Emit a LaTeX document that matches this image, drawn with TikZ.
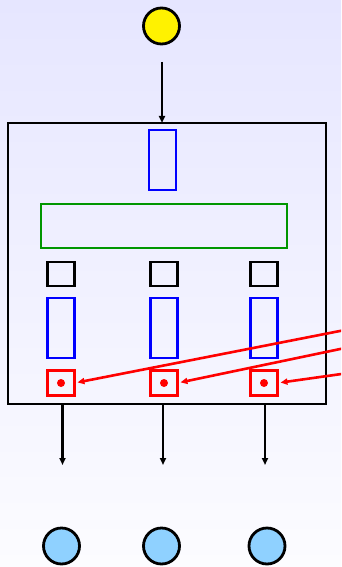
\documentclass[tikz,border=0pt]{standalone}
\usetikzlibrary{arrows.meta}
\definecolor{bgtop}{RGB}{230,230,255}
\definecolor{bgbot}{RGB}{252,252,255}
\definecolor{leaf}{RGB}{143,209,255}
\definecolor{gbar}{RGB}{0,150,0}
\begin{document}
\begin{tikzpicture}[x=1pt,y=-1pt,
  box/.style={draw, line width=2.8pt, inner sep=0pt, outer sep=0pt, rectangle},
  blk/.style={box, black, minimum width=27pt, minimum height=24pt},
  bluebox/.style={box, blue, minimum width=27pt, minimum height=60pt},
  slot/.style={box, red, minimum width=27pt, minimum height=25pt},
  dotm/.style={circle, fill=red, inner sep=0pt, minimum size=8pt},
  ball/.style={circle, draw=black, line width=2.8pt, inner sep=0pt, minimum size=36pt},
  flow/.style={-{Triangle[length=7pt,width=6pt]}, line width=2.6pt, black},
  hint/.style={-{Triangle[length=7pt,width=6pt]}, line width=2.6pt, red, shorten >=3pt}]
  % background
  \shade[top color=bgtop, bottom color=bgbot] (0,0) rectangle (341,567);
  \useasboundingbox (0,0) rectangle (341,567);
  \clip (0,0) rectangle (341,567);

  % root
  \node[ball, fill=yellow] (root) at (161.5,26) {};
  \coordinate (rootout) at (162,62);

  % container
  \node[box, minimum width=318pt, minimum height=281pt] (frame) at (167,263.5) {};
  \node[bluebox] (top) at (162.5,160) {};
  \node[box, draw=gbar, minimum width=246pt, minimum height=44pt] (bar) at (164,226) {};

  \foreach \i/\x in {1/61,2/164,3/264}{
    \node[blk] (k\i) at (\x,274) {};
    \node[bluebox] (b\i) at (\x,328) {};
    \node[slot] (s\i) at (\x,383) {};
    \node[dotm] (d\i) at (\x,383) {};
  }

  \draw[flow] (rootout) -- (frame.north -| rootout);

  % outputs
  \foreach \i/\x/\cx in {1/62.5/61.5,2/163/161.5,3/265/267}{
    \coordinate (o\i) at (\x,465);
    \node[ball, fill=leaf] (leaf\i) at (\cx,546) {};
    \draw[flow] (frame.south -| o\i) -- (o\i);
  }

  % incoming hints
  \coordinate (h1) at (345,330);
  \coordinate (h2) at (345,348);
  \coordinate (h3) at (345,373.5);
  \draw[hint] (h1) -- (s1.east);
  \draw[hint] (h2) -- (s2.east);
  \draw[hint] (h3) -- (s3.east);
\end{tikzpicture}
\end{document}
